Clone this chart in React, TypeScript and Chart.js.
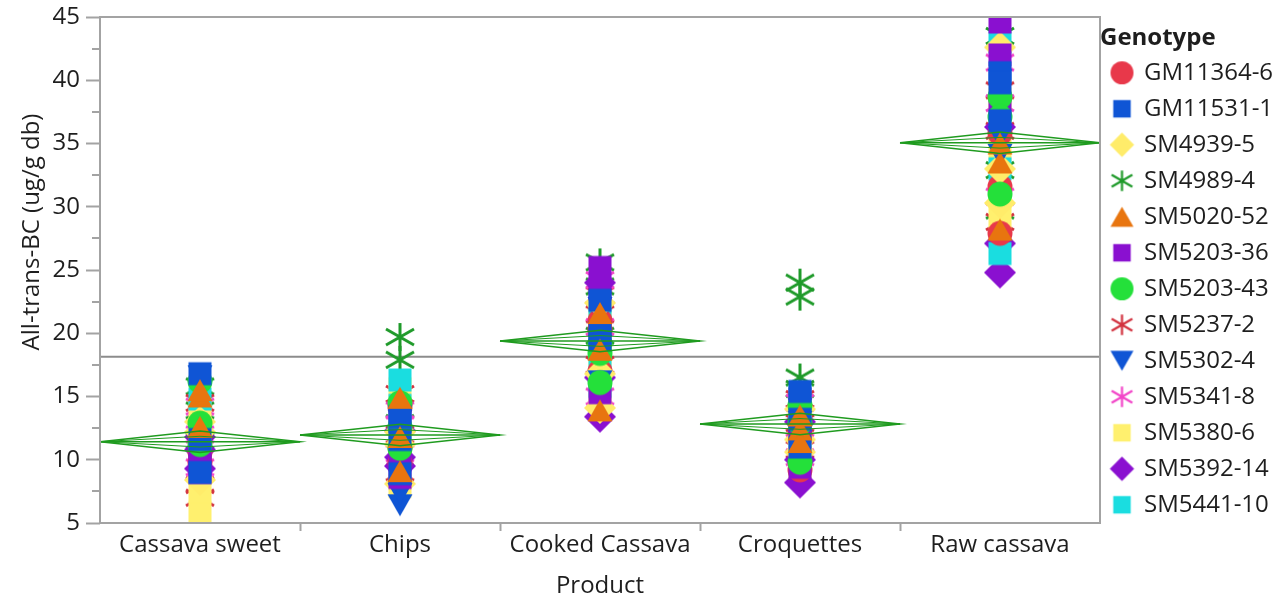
import React, { useEffect, useRef } from 'react';
import { Chart, registerables } from 'chart.js';

Chart.register(...registerables);

const products = ['Cassava sweet', 'Chips', 'Cooked Cassava', 'Croquettes', 'Raw cassava'];
const genotypeNames = [
  'GM11364-6', 'GM11531-1', 'SM4939-5', 'SM4989-4', 'SM5020-52', 'SM5203-36', 'SM5203-43',
  'SM5237-2', 'SM5302-4', 'SM5341-8', 'SM5380-6', 'SM5392-14', 'SM5441-10',
];

// All-trans-BC values per product: [Cassava sweet, Chips, Cooked Cassava, Croquettes, Raw cassava]
const GM11364_6 = [[12.0, 9.8, 10.6], [14.2, 11.0, 9.8], [21.0, 20.3, 17.0], [9.2, 12.0, 10.6], [31.6, 27.9, 35.8]];
const GM11531_1 = [[16.8, 9.0, 11.6], [13.4, 8.9, 11.6], [19.5, 20.0, 22.6], [13.2, 11.0, 15.4], [40.6, 39.8, 36.8]];
const SM4939_5 = [[13.0, 12.2, 8.4], [11.2, 8.1, 12.2], [22.4, 14.1, 16.8], [11.6, 14.0, 10.6], [42.6, 30.3, 33.0]];
const SM4989_4 = [[11.5, 15.8, 13.9], [19.7, 17.9, 12.9], [25.6, 23.7, 19.8], [24.0, 22.9, 16.5, 15.6], [43.5, 32.9, 29.7]];
const SM5020_52 = [[15.0, 12.6, 15.5], [14.9, 11.8, 9.1], [18.7, 13.9, 21.6], [12.4, 13.5, 11.4], [35.0, 33.5, 28.2]];
const SM5203_36 = [[9.6, 10.2, 9.0], [10.0, 13.0, 8.6], [25.2, 23.5, 15.3], [9.4, 12.2, 14.8], [44.6, 37.9, 42.0]];
const SM5203_43 = [[16.2, 11.2, 12.9], [12.6, 14.5, 10.9], [19.2, 16.1, 18.4], [12.9, 14.3, 9.8], [38.7, 37.1, 31.0]];
const SM5237_2 = [[7.0, 14.5, 8.0], [12.0, 15.2, 9.0], [21.5, 17.5, 23.0], [14.8, 10.8, 12.9], [39.2, 36.0, 28.8]];
const SM5302_4 = [[16.6, 11.8, 10.0], [6.4, 13.1, 7.3], [22.0, 19.0, 16.2], [11.5, 13.0, 14.0], [35.5, 34.1, 40.0]];
const SM5341_8 = [[14.2, 9.4, 12.0], [10.5, 12.8, 13.9], [15.0, 20.5, 24.2], [14.5, 10.2, 12.5], [41.4, 38.2, 30.8]];
const SM5380_6 = [[5.8, 13.6, 7.5], [11.3, 7.9, 15.6], [14.5, 18.0, 20.9], [11.0, 12.8, 9.0], [34.5, 29.2, 38.5]];
const SM5392_14 = [[9.3, 10.8, 11.8], [9.5, 10.2, 12.3], [13.4, 16.5, 24.0], [8.2, 10.0, 13.0], [36.3, 24.8, 27.1]];
const SM5441_10 = [[10.4, 11.0, 14.8], [16.3, 12.5, 14.3], [22.0, 17.9, 15.8], [15.0, 13.7, 11.9], [26.3, 33.0, 43.0]];

const genotypeValues = [
  GM11364_6, GM11531_1, SM4939_5, SM4989_4, SM5020_52, SM5203_36, SM5203_43,
  SM5237_2, SM5302_4, SM5341_8, SM5380_6, SM5392_14, SM5441_10,
];

// Means diamonds (mean and 95% CI half-width) per product, and grand mean
const productMeans = [11.43, 11.96, 19.39, 12.83, 35.06];
const meanCIHalf = [0.85, 0.85, 0.85, 0.85, 0.85];
const grandMean = [18.15];

// Y axis range
const yMin = 5;
const yMax = 45;
const yStep = 5;

const markerStyles = [
  { shape: 'circle', color: '#e8384a' },
  { shape: 'square', color: '#0f55d5' },
  { shape: 'diamond', color: '#ffec6a' },
  { shape: 'asterisk', color: '#1f9a2a' },
  { shape: 'triangle', color: '#e8750f' },
  { shape: 'square', color: '#8a10d0' },
  { shape: 'circle', color: '#24e03a' },
  { shape: 'asterisk', color: '#d2323f' },
  { shape: 'triangleDown', color: '#0f55d5' },
  { shape: 'asterisk', color: '#f245c8' },
  { shape: 'square', color: '#fff06e' },
  { shape: 'diamond', color: '#8a10d0' },
  { shape: 'square', color: '#1adde0' },
];

// painting layer for each genotype (1 = top-most); asterisks sit underneath
const paintLayer = [7, 2, 6, 13, 1, 4, 3, 12, 5, 11, 10, 9, 8];

const FONT = "'Open Sans', 'Noto Sans', sans-serif";
const TEXT = '#1e1e1e';
const AXIS = '#a3a3a3';
const GREEN = '#1f9b1f';

function makeMarker(shape: string, color: string, s: number): HTMLCanvasElement {
  const size = Math.ceil(38 * s);
  const c = document.createElement('canvas');
  c.width = size;
  c.height = size;
  const ctx = c.getContext('2d')!;
  const m = size / 2;
  ctx.fillStyle = color;
  ctx.strokeStyle = color;
  ctx.beginPath();
  if (shape === 'circle') {
    ctx.arc(m, m, 12.5 * s, 0, Math.PI * 2);
    ctx.fill();
  } else if (shape === 'square') {
    const h = 11.5 * s;
    ctx.fillRect(m - h, m - h, 2 * h, 2 * h);
  } else if (shape === 'diamond') {
    const h = 16 * s;
    ctx.moveTo(m, m - h);
    ctx.lineTo(m + h, m);
    ctx.lineTo(m, m + h);
    ctx.lineTo(m - h, m);
    ctx.closePath();
    ctx.fill();
  } else if (shape === 'triangle') {
    const w = 12.5 * s, h = 11 * s;
    ctx.moveTo(m, m - h);
    ctx.lineTo(m + w, m + h);
    ctx.lineTo(m - w, m + h);
    ctx.closePath();
    ctx.fill();
  } else if (shape === 'triangleDown') {
    const w = 12.5 * s, h = 11 * s;
    ctx.moveTo(m, m + h);
    ctx.lineTo(m + w, m - h);
    ctx.lineTo(m - w, m - h);
    ctx.closePath();
    ctx.fill();
  } else if (shape === 'asterisk') {
    ctx.lineWidth = 3 * s;
    ctx.moveTo(m, m - 14 * s);
    ctx.lineTo(m, m + 14 * s);
    ctx.moveTo(m - 14 * s, m - 8 * s);
    ctx.lineTo(m + 14 * s, m + 8 * s);
    ctx.moveTo(m - 14 * s, m + 8 * s);
    ctx.lineTo(m + 14 * s, m - 8 * s);
    ctx.stroke();
  }
  return c;
}

const legendScale: Record<string, number> = {
  circle: 0.92, triangle: 0.92, triangleDown: 0.92, square: 0.76, diamond: 0.76, asterisk: 0.74,
};

const Y_TITLE_SHIFT = 76;

const framePlugin = {
  id: 'frameAndMinorTicks',
  beforeDraw(chart: any) {
    // JMP places the Y axis title a little above the middle of the frame:
    // shift only the title box while the scales are painted
    const ys = chart.scales.y;
    ys.$savedBottom = ys.bottom;
    ys.bottom = ys.bottom - Y_TITLE_SHIFT;
  },
  beforeDatasetsDraw(chart: any) {
    const ys = chart.scales.y;
    if (ys.$savedBottom !== undefined) {
      ys.bottom = ys.$savedBottom;
      ys.$savedBottom = undefined;
    }
  },
  afterDatasetsDraw(chart: any) {
    const { ctx, chartArea: a, scales } = chart;
    ctx.save();
    ctx.strokeStyle = AXIS;
    ctx.lineWidth = 2;
    ctx.strokeRect(a.left, a.top, a.right - a.left, a.bottom - a.top);
    const ys = scales.y;
    const vals = ys.ticks.map((t: any) => t.value);
    ctx.beginPath();
    for (let i = 0; i < vals.length - 1; i++) {
      const py = Math.round(ys.getPixelForValue((vals[i] + vals[i + 1]) / 2));
      ctx.moveTo(a.left - 8, py);
      ctx.lineTo(a.left, py);
    }
    ctx.stroke();
    ctx.restore();
  },
};

export default function App() {
  const ref = useRef<HTMLCanvasElement>(null);

  useEffect(() => {
    const canvas = ref.current!;
    const plotMarkers = markerStyles.map((m) => makeMarker(m.shape, m.color, 1));
    const legendMarkers = markerStyles.map((m) => makeMarker(m.shape, m.color, legendScale[m.shape]));
    const nG = genotypeNames.length;

    const datasets: any[] = genotypeValues.map((g, gi) => ({
      label: genotypeNames[gi],
      data: g.flatMap((vals, pi) => vals.map((v) => ({ x: pi + 0.5, y: v }))),
      pointStyle: plotMarkers[gi],
      pointRadius: 12,
      pointHoverRadius: 12,
      showLine: false,
      order: paintLayer[gi],
    }));

    const lineDs = (data: any[], color: string, width: number, order: number) => ({
      label: '',
      data,
      showLine: true,
      fill: false,
      borderColor: color,
      borderWidth: width,
      pointRadius: 0,
      pointHoverRadius: 0,
      order,
    });

    datasets.push(lineDs([{ x: 0, y: grandMean[0] }, { x: products.length, y: grandMean[0] }], '#8c8c8c', 2, 50));

    products.forEach((_, i) => {
      const m = productMeans[i];
      const h = meanCIHalf[i];
      const o = h * 0.5;
      datasets.push(lineDs([
        { x: i, y: m }, { x: i + 0.5, y: m + h }, { x: i + 1, y: m }, { x: i + 0.5, y: m - h }, { x: i, y: m },
      ], GREEN, 1.5, 0));
      datasets.push(lineDs([{ x: i, y: m }, { x: i + 1, y: m }], GREEN, 1.5, 0));
      datasets.push(lineDs([
        { x: i, y: m }, { x: i + 0.5, y: m + o }, { x: i + 1, y: m }, { x: i + 0.5, y: m - o }, { x: i, y: m },
      ], GREEN, 1, 0));
    });

    const chart = new Chart(canvas, {
      type: 'scatter',
      data: { datasets },
      plugins: [framePlugin],
      options: {
        animation: false,
        responsive: true,
        maintainAspectRatio: false,
        layout: { padding: { top: 17, right: 0, bottom: 0, left: 0 } },
        plugins: {
          tooltip: { enabled: false },
          legend: {
            display: true,
            position: 'right',
            align: 'start',
            maxWidth: 181,
            title: {
              display: true,
              text: 'Genotype',
              position: 'start',
              color: TEXT,
              font: { family: FONT, size: 24, weight: 'bold' },
              padding: { top: 9, bottom: -6 },
            },
            labels: {
              usePointStyle: true,
              boxWidth: 20,
              padding: 12,
              color: TEXT,
              font: { family: FONT, size: 24 },
              generateLabels: (ch: any) => {
                const items = (Chart as any).defaults.plugins.legend.labels.generateLabels(ch);
                return items
                  .filter((it: any) => it.datasetIndex < nG)
                  .sort((a: any, b: any) => a.datasetIndex - b.datasetIndex)
                  .map((it: any) => ({ ...it, pointStyle: legendMarkers[it.datasetIndex] }));
              },
            },
          },
        },
        scales: {
          x: {
            type: 'linear',
            min: 0,
            max: products.length,
            afterFit: (scale: any) => { scale.height = 77; },
            border: { display: false },
            grid: {
              drawOnChartArea: false,
              drawTicks: true,
              tickLength: 8,
              tickWidth: 2,
              tickColor: (ctx: any) => {
                const v = ctx.tick ? ctx.tick.value : -1;
                return Number.isInteger(v) && v > 0 && v < products.length ? AXIS : 'rgba(0,0,0,0)';
              },
            },
            ticks: {
              stepSize: 0.5,
              autoSkip: false,
              maxRotation: 0,
              minRotation: 0,
              padding: 0,
              color: TEXT,
              font: { family: FONT, size: 24, lineHeight: 1.2 },
              callback: (value: any) => {
                const v = Number(value);
                return Math.abs((v % 1) - 0.5) < 1e-6 ? products[Math.floor(v)] : '';
              },
            },
            title: {
              display: true,
              text: 'Product',
              color: TEXT,
              font: { family: FONT, size: 24 },
              padding: { top: 0, bottom: -1 },
            },
          },
          y: {
            type: 'linear',
            min: yMin,
            max: yMax,
            afterFit: (scale: any) => { scale.width = 100; },
            border: { display: false },
            grid: {
              drawOnChartArea: false,
              drawTicks: true,
              tickLength: 14,
              tickWidth: 2,
              tickColor: AXIS,
            },
            ticks: {
              stepSize: yStep,
              padding: 6,
              color: TEXT,
              font: { family: FONT, size: 24, lineHeight: 0.9 },
            },
            title: {
              display: true,
              text: 'All-trans-BC (ug/g db)',
              color: TEXT,
              font: { family: FONT, size: 24 },
              padding: { top: 18, bottom: 0 },
            },
          },
        },
      } as any,
    });

    return () => chart.destroy();
  }, []);

  return (
    <div style={{ position: 'absolute', left: 0, top: 0, width: 1281, height: 600, background: '#ffffff' }}>
      <canvas ref={ref} />
    </div>
  );
}
